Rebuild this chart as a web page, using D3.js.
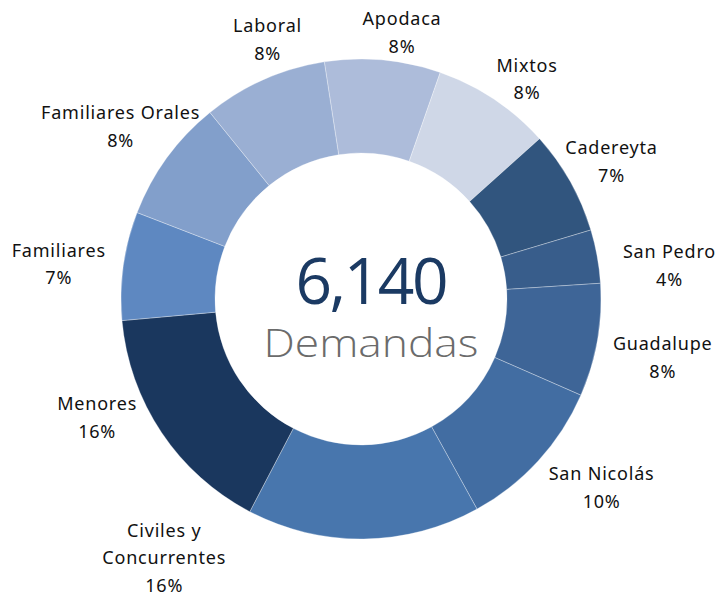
<!DOCTYPE html>
<html>
<head>
<meta charset="utf-8">
<script src="https://cdn.jsdelivr.net/npm/d3@7"></script>
<style>
  body { margin: 0; background: #fff; }
  svg { display: block; }
</style>
</head>
<body>
<svg id="chart" width="721" height="596"></svg>
<script>
// ---------------- données ----------------
const categorias = ["Apodaca", "Mixtos", "Cadereyta", "San Pedro", "Guadalupe", "San Nicolás",
                    "Civiles y Concurrentes", "Menores", "Familiares", "Familiares Orales", "Laboral"]
const demandas = [479, 491, 430, 221, 467, 639, 964, 976, 448, 510, 515]
const etiquetas = [["Apodaca"], ["Mixtos"], ["Cadereyta"], ["San Pedro"], ["Guadalupe"], ["San Nicolás"],
                   ["Civiles y", "Concurrentes"], ["Menores"], ["Familiares"], ["Familiares Orales"], ["Laboral"]]
const colores = ["#adbcda", "#cfd7e7", "#31557e", "#385d8b", "#3e6597", "#426da2",
                 "#4876ad", "#1a375e", "#5e88c1", "#829fcb", "#9aafd3"]

// ---------------- mise en page ----------------
const cx = 361, cy = 299
const rOut = 240, rIn = 146
const rEtiq = 285
const lineH = 27.5
// décalage des étiquettes par rapport au centroïde (placement type Excel)
const decalage = [[15, 10], [8, 10], [2, -5], [28, 10], [21, 2], [30, -11],
                  [-200, -47], [-27, -47], [-20, -3], [-10, -12], [22, -6]]

const svg = d3.select("#chart")
const g = svg.append("g").attr("transform", "translate(" + cx + "," + cy + ")")

const total = d3.sum(demandas)
const debut = -8.8 * Math.PI / 180

const pie = d3.pie().sort(null).value(d => d).startAngle(debut).endAngle(debut + 2 * Math.PI)
const arcs = pie(demandas)

const arc = d3.arc().innerRadius(rIn).outerRadius(rOut)
const arcEtiq = d3.arc().innerRadius(rEtiq).outerRadius(rEtiq)

g.selectAll("path.part")
    .data(arcs)
    .enter()
    .append("path")
    .attr("class", "part")
    .attr("d", arc)
    .attr("fill", (d, i) => colores[i])
    .attr("stroke", "rgba(255,255,255,0.45)")
    .attr("stroke-width", 0.7)

// étiquettes
arcs.forEach(function (d, i) {
    var c = arcEtiq.centroid(d)
    var x = c[0] + decalage[i][0]
    var y = c[1] + decalage[i][1]
    var lignes = etiquetas[i].concat([Math.round(d.value / total * 100) + "%"])
    var t = g.append("text")
        .attr("text-anchor", "middle")
        .attr("font-family", "'Noto Sans', sans-serif")
        .attr("font-size", 18)
        .attr("letter-spacing", 0.8)
        .attr("fill", "#111")
    lignes.forEach(function (l, k) {
        t.append("tspan").attr("x", x).attr("y", y + k * lineH).text(l)
    })
})

// texte central
g.append("text")
    .attr("x", 11).attr("y", 5)
    .attr("text-anchor", "middle")
    .attr("font-family", "'Open Sans', sans-serif")
    .attr("font-size", 64)
    .attr("fill", "#1b3a63")
    .attr("textLength", 153)
    .attr("lengthAdjust", "spacing")
    .text(d3.format(",")(total))

g.append("text")
    .attr("x", 10).attr("y", 58)
    .attr("text-anchor", "middle")
    .attr("font-family", "'Open Sans', sans-serif")
    .attr("font-weight", 300)
    .attr("font-size", 38)
    .attr("fill", "#6b6b6b")
    .attr("textLength", 215)
    .attr("lengthAdjust", "spacingAndGlyphs")
    .text("Demandas")
</script>
</body>
</html>
